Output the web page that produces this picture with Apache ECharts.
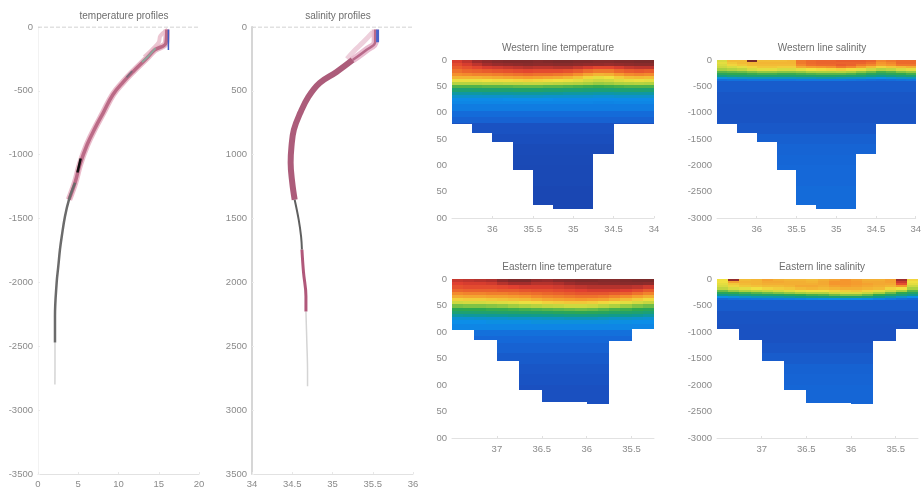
<!DOCTYPE html>
<html>
<head>
<meta charset="utf-8">
<style>
html,body{margin:0;padding:0;background:#fff}
#chart{width:924px;height:492px;filter:blur(0.7px)}
</style>
<script src="https://cdn.jsdelivr.net/npm/echarts@6/dist/echarts.min.js"></script>
</head>
<body>
<div id="chart"></div>
<script>
// ---- profile data: [value, depth] pairs
const tempBand = [[16.0,20],[15.9,125],[14.5,180],[13.5,245],[11.8,350],[10.6,430],[9.3,530],[8.1,672],[7.1,790],[6.1,922],[5.2,1078],[4.6,1220],[3.85,1352]];
const tempFan = [[16.1,20],[15.2,70],[15.0,120],[14.2,175],[13.2,235]];
const tempGreyUpper = [[14.6,165],[13.6,235],[12.9,275]];
const tempGreyMid = [[11.7,345],[11.0,395]];
const tempBlack = [[5.3,1030],[4.9,1140]];
const tempDeep = [[4.6,1220],[3.85,1352],[3.35,1484],[2.95,1640],[2.73,1742],[2.52,1875],[2.32,2000],[2.11,2266],[2.11,2470]];
const tempFaint = [[2.11,2470],[2.11,2680],[2.1,2800]];
const tempBlue = [[16.2,20],[16.2,180]];
const salBand = [[35.53,20],[35.53,117],[35.42,180],[35.25,258]];
const salFan = [[35.50,40],[35.38,120],[35.28,180],[35.18,250]];
const salCore = [[35.25,258],[35.05,352],[34.84,438],[34.70,547],[34.60,672],[34.52,805],[34.49,938],[34.48,1063],[34.50,1219],[34.53,1352]];
const salGrey = [[34.53,1352],[34.58,1508],[34.61,1641],[34.62,1742]];
const salCoreDeep = [[34.62,1742],[34.64,1922],[34.67,2109],[34.67,2227]];
const salFaint = [[34.67,2227],[34.68,2445],[34.69,2703],[34.69,2812]];
const salBlue = [[35.56,20],[35.56,120]];
const topLineTemp = [[0,0],[20,0]];
const topLineSal = [[34,0],[36,0]];

// ---- section data
const stationsWest = [36.5,36.25,36,35.75,35.5,35.25,35,34.75,34.5,34.25,34];
const stationsEast = [37.5,37.25,37,36.75,36.5,36.25,36,35.75,35.5,35.25];
const bottomsWest = [1224,1395,1554,2093,2759,2822,2822,1789,1224,1224];
const bottomsEastT = [964,1153,1544,2086,2319,2319,2357,1172,945];
const bottomsEastS = [945,1160,1544,2086,2340,2340,2360,1170,945];
const tempEdges = [0,60,120,180,240,300,360,420,480,540,600,660,720,780,840];
const salEdges = [0,40,80,120,160,200,240,280,320,360,400];
const tempDeepEdges = [840,960,1080,1200,1400,1600,1800,2000,2400,2900];
const salDeepEdges = [400,600,840,1000,1200,1400,1600,1800,2000,2400,2900];

const westTempRows = [
[15.6,15.9,16.3,16.6,16.8,16.9,16.9,16.9,16.8,16.9,17.0,17.0,16.9,16.9,16.8,16.8,16.9,16.9,17.0,17.0],
[15.3,15.6,15.9,16.2,16.4,16.5,16.6,16.7,16.6,16.6,16.7,16.7,16.6,16.5,16.5,16.4,16.5,16.6,16.7,16.7],
[15.0,15.2,15.4,15.6,15.7,15.8,15.9,16.0,15.9,15.9,16.0,16.0,15.8,15.6,15.4,15.4,15.6,15.8,15.9,15.9],
[14.6,14.8,14.9,15.0,15.1,15.2,15.3,15.4,15.3,15.3,15.3,15.2,15.0,14.7,14.5,14.5,14.8,15.0,15.1,15.0],
[14.1,14.2,14.3,14.3,14.4,14.5,14.6,14.7,14.6,14.6,14.5,14.4,14.1,13.7,13.4,13.5,13.9,14.2,14.3,14.2],
[13.4,13.4,13.4,13.5,13.6,13.7,13.8,13.9,13.8,13.7,13.6,13.4,13.1,12.7,12.3,12.5,12.9,13.2,13.3,13.2],
[12.4,12.4,12.4,12.5,12.6,12.6,12.7,12.8,12.7,12.6,12.5,12.4,12.2,11.9,11.7,11.8,12.1,12.3,12.4,12.3],
[11.3,11.3,11.3,11.4,11.4,11.5,11.5,11.6,11.6,11.5,11.4,11.3,11.2,11.0,10.8,10.9,11.1,11.2,11.3,11.2],
[9.9,9.9,9.9,10.0,10.0,10.0,10.1,10.1,10.1,10.0,10.0,9.9,9.8,9.7,9.6,9.7,9.8,9.9,9.9,9.9],
[8.7,8.7,8.8,8.8,8.8,8.8,8.9,8.9,8.9,8.8,8.8,8.7,8.7,8.6,8.6,8.6,8.7,8.7,8.8,8.7],
[7.7,7.7,7.7,7.8,7.8,7.8,7.8,7.8,7.8,7.8,7.8,7.7,7.7,7.7,7.6,7.6,7.7,7.7,7.7,7.7],
[7.0,7.0,7.0,7.0,7.0,7.0,7.1,7.1,7.1,7.0,7.0,7.0,7.0,7.0,6.9,6.9,7.0,7.0,7.0,7.0],
[6.4,6.4,6.4,6.4,6.4,6.5,6.5,6.5,6.5,6.5,6.4,6.4,6.4,6.4,6.4,6.4,6.4,6.4,6.4,6.4],
[6.2,6.2,6.2,6.2,6.2,6.2,6.2,6.2,6.2,6.2,6.2,6.2,6.2,6.2,6.1,6.1,6.2,6.2,6.2,6.2]
];
const westTempDeep = [5.8,5.1,4.6,3.6,3.3,3.0,2.9,2.8,2.7];

const eastTempRows = [
[15.8,15.9,16.0,16.1,16.6,16.9,16.9,16.5,16.4,16.7,16.8,16.9,16.9,16.8,16.8,16.9,17.0,17.0],
[15.5,15.6,15.6,15.7,16.0,16.2,16.2,16.0,16.0,16.1,16.3,16.5,16.5,16.6,16.6,16.7,16.7,16.6],
[15.2,15.3,15.3,15.3,15.4,15.5,15.6,15.6,15.6,15.7,15.8,15.9,16.0,16.0,16.0,16.0,15.9,15.7],
[14.8,14.9,14.9,14.9,15.0,15.0,15.1,15.2,15.2,15.3,15.4,15.5,15.6,15.6,15.6,15.5,15.3,15.0],
[14.2,14.3,14.3,14.4,14.4,14.5,14.6,14.7,14.8,14.9,15.0,15.1,15.1,15.1,15.0,14.9,14.6,14.3],
[13.6,13.7,13.7,13.8,13.8,13.9,14.0,14.2,14.3,14.4,14.5,14.6,14.6,14.5,14.3,14.1,13.8,13.5],
[12.8,12.9,12.9,13.0,13.1,13.2,13.3,13.5,13.7,13.8,13.9,14.0,13.9,13.8,13.5,13.2,12.9,12.6],
[11.8,11.9,11.9,12.0,12.1,12.2,12.4,12.6,12.8,12.9,13.0,13.0,12.9,12.7,12.4,12.2,11.9,11.6],
[10.4,10.5,10.5,10.6,10.7,10.9,11.1,11.3,11.5,11.6,11.8,11.8,11.7,11.4,11.1,10.8,10.5,10.3],
[9.4,9.5,9.5,9.6,9.6,9.7,9.8,9.9,10.0,10.1,10.2,10.3,10.2,10.0,9.8,9.7,9.5,9.3],
[8.7,8.7,8.8,8.8,8.9,8.9,9.0,9.0,9.1,9.2,9.3,9.4,9.3,9.2,9.0,8.9,8.8,8.6],
[7.7,7.8,7.8,7.9,7.9,8.0,8.0,8.1,8.1,8.2,8.3,8.3,8.3,8.2,8.1,8.0,7.9,7.7],
[6.9,6.9,7.0,7.0,7.0,7.1,7.1,7.1,7.2,7.2,7.3,7.3,7.3,7.2,7.1,7.1,7.0,6.9],
[6.5,6.5,6.5,6.6,6.6,6.6,6.6,6.7,6.7,6.7,6.7,6.7,6.7,6.7,6.6,6.6,6.5,6.5]
];
const eastTempDeep = [6.2,5.3,5.0,4.6,4.2,3.9,3.7,3.5,3.4];

const westSalRows = [
[35.20,35.30,35.30,35.60,35.30,35.30,35.30,35.31,35.40,35.42,35.43,35.43,35.44,35.44,35.44,35.43,35.38,35.40,35.42,35.42],
[35.22,35.28,35.30,35.31,35.31,35.31,35.31,35.31,35.40,35.42,35.43,35.43,35.43,35.43,35.43,35.41,35.36,35.38,35.42,35.42],
[35.20,35.26,35.28,35.30,35.30,35.30,35.30,35.30,35.38,35.41,35.42,35.42,35.44,35.43,35.40,35.38,35.34,35.36,35.40,35.40],
[35.18,35.20,35.22,35.26,35.28,35.28,35.27,35.27,35.33,35.35,35.36,35.37,35.40,35.38,35.34,35.30,35.26,35.28,35.30,35.32],
[35.12,35.14,35.16,35.20,35.22,35.22,35.20,35.20,35.22,35.24,35.25,35.26,35.27,35.25,35.22,35.18,35.14,35.16,35.20,35.22],
[35.04,35.05,35.06,35.08,35.10,35.10,35.09,35.09,35.10,35.12,35.13,35.13,35.14,35.12,35.09,35.06,35.02,35.04,35.08,35.10],
[34.98,35.00,35.00,35.01,35.02,35.02,35.01,35.01,35.02,35.03,35.04,35.04,35.04,35.03,35.01,34.98,34.96,34.98,35.00,35.02],
[34.90,34.92,34.93,34.94,34.94,34.94,34.94,34.94,34.95,34.95,34.96,34.96,34.95,34.94,34.93,34.90,34.88,34.90,34.92,34.94],
[34.78,34.80,34.81,34.82,34.82,34.82,34.82,34.82,34.83,34.83,34.84,34.84,34.83,34.82,34.81,34.79,34.77,34.79,34.81,34.82],
[34.66,34.67,34.67,34.68,34.68,34.68,34.68,34.68,34.69,34.69,34.69,34.69,34.69,34.68,34.67,34.66,34.65,34.66,34.67,34.68]
];
const westSalDeep = [34.58,34.55,34.54,34.54,34.56,34.60,34.62,34.63,34.64,34.65];

const eastSalRows = [
[35.24,35.56,35.30,35.31,35.34,35.32,35.31,35.31,35.30,35.32,35.34,35.36,35.34,35.32,35.32,35.34,35.54,35.26],
[35.24,35.34,35.31,35.31,35.33,35.33,35.32,35.32,35.31,35.33,35.36,35.36,35.35,35.33,35.33,35.34,35.50,35.24],
[35.22,35.28,35.30,35.31,35.32,35.32,35.32,35.32,35.32,35.33,35.36,35.36,35.35,35.34,35.33,35.33,35.46,35.22],
[35.20,35.26,35.28,35.29,35.30,35.30,35.31,35.33,35.33,35.32,35.34,35.35,35.34,35.33,35.32,35.31,35.36,35.18],
[35.16,35.20,35.22,35.24,35.26,35.27,35.28,35.30,35.31,35.30,35.31,35.32,35.32,35.31,35.30,35.26,35.24,35.12],
[35.06,35.10,35.13,35.15,35.17,35.19,35.21,35.23,35.24,35.24,35.26,35.27,35.28,35.26,35.22,35.18,35.12,35.04],
[34.98,35.00,35.02,35.04,35.06,35.08,35.10,35.12,35.14,35.14,35.18,35.20,35.20,35.17,35.12,35.06,35.00,34.96],
[34.88,34.90,34.92,34.94,34.95,34.96,34.98,35.00,35.02,35.03,35.06,35.08,35.08,35.05,35.00,34.96,34.92,34.88],
[34.76,34.78,34.80,34.82,34.83,34.84,34.86,34.88,34.90,34.91,34.93,34.94,34.94,34.92,34.88,34.84,34.80,34.76],
[34.64,34.66,34.67,34.68,34.69,34.70,34.71,34.72,34.74,34.75,34.76,34.77,34.76,34.75,34.72,34.69,34.66,34.64]
];
const eastSalDeep = [34.58,34.54,34.53,34.53,34.55,34.58,34.61,34.62,34.63,34.64];

// ---- tick labels
const xTempTicks = [0,5,10,15,20];
const xSalTicks = [34,34.5,35,35.5,36];
const yTempLabels = ['0','-500','-1000','-1500','-2000','-2500','-3000','-3500'];
const ySalLabels = ['0','500','1000','1500','2000','2500','3000','3500'];
const ySectionTempLabels = ['0','50','00','50','00','50','00'];
const ySectionSalLabels = ['0','-500','-1000','-1500','-2000','-2500','-3000'];
const xWestTicks = [36,35.5,35,34.5,34];
const xEastTicks = [37,36.5,36,35.5];

// ---- colour scale
const palette = ['#1a3fa8','#1a48b4','#1a50c0','#185ccc','#1568d8','#107be0','#0c8ee8','#0e94bc','#0f9a90','#1fa170','#2fa84f','#6cbc48','#a8d040','#ccd840','#f0e040','#f2bb36','#f5962d','#ec6a2c','#e04030','#a02c2c','#7a2a2a'];

const tickLabelStyle = {color:'#8a8a8a',fontSize:9.5,fontFamily:'Liberation Sans, Arial, sans-serif'};
const faintLine = {lineStyle:{color:'#e2e2e2',width:1}};

function sectionCells(stations, bottoms, colsPerStation, edges, rows, deepEdges, deep){
  const out=[];
  const nCols=rows[0].length;
  const add=(col,top,bot,val)=>{
    const s=Math.floor(col/colsPerStation);
    if(s>=bottoms.length) return;
    const b=bottoms[s];
    if(top>=b) return;
    const frac0=col/colsPerStation-s, frac1=frac0+1/colsPerStation;
    const lon0=stations[s]+(stations[s+1]-stations[s])*frac0;
    const lon1=stations[s]+(stations[s+1]-stations[s])*frac1;
    out.push([lon0,lon1,-top,-Math.min(bot,b),val]);
  };
  for(let r=0;r<rows.length;r++) for(let c=0;c<nCols;c++) add(c,edges[r],edges[r+1],rows[r][c]);
  for(let r=0;r<deep.length;r++) for(let c=0;c<nCols;c++) add(c,deepEdges[r],deepEdges[r+1],deep[r]);
  return out;
}
function renderCell(params,api){
  const a=api.coord([api.value(0),api.value(2)]);
  const b=api.coord([api.value(1),api.value(3)]);
  const x0=Math.round(Math.min(a[0],b[0])),x1=Math.round(Math.max(a[0],b[0]));
  const y0=Math.round(Math.min(a[1],b[1])),y1=Math.round(Math.max(a[1],b[1]));
  return {type:'rect',shape:{x:x0,y:y0,width:x1-x0,height:y1-y0},style:{fill:api.visual('color')}};
}
function sectionSeries(i,cells){
  return {type:'custom',xAxisIndex:i,yAxisIndex:i,data:cells,renderItem:renderCell,
    encode:{x:[0,1],y:[2,3]},silent:true,clip:true};
}
function lineSeries(i,data,color,width,extra){
  return Object.assign({type:'line',xAxisIndex:i,yAxisIndex:i,symbol:'none',silent:true,clip:true,
    data:data.map(p=>[p[0],-p[1]]),smooth:0.4,lineStyle:{color:color,width:width}},extra||{});
}

const grids=[
 {left:38,top:27,width:161,height:447},
 {left:252,top:27,width:161,height:447},
 {left:452,top:60,width:202,height:158},
 {left:717,top:60,width:202,height:158},
 {left:452,top:279,width:202,height:159},
 {left:717,top:279,width:201,height:159}
];
const titles=[
 ['temperature profiles',119,6],['salinity profiles',333,6],
 ['Western line temperature',553,38],['Western line salinity',817,38],
 ['Eastern line temperature',552,257],['Eastern line salinity',817,257]
].map(t=>({text:t[0],left:t[1],top:t[2],textAlign:'center',
  textStyle:{fontSize:10,fontWeight:'normal',color:'#6e6e6e',fontFamily:'Liberation Sans, Arial, sans-serif'}}));

function profileX(i,min,max,ticks){
  return {gridIndex:i,type:'value',min:min,max:max,interval:ticks[1]-ticks[0],splitLine:{show:false},
    axisLine:{onZero:false,...faintLine},axisTick:{length:2,inside:true,lineStyle:{color:'#e8e8e8'}},
    axisLabel:Object.assign({margin:5,showMinLabel:true,showMaxLabel:true},tickLabelStyle)};
}
function profileY(i,labels,lineColor,width){
  return {gridIndex:i,type:'value',min:-3500,max:0,interval:500,splitLine:{show:false},
    axisLine:{onZero:false,lineStyle:{color:lineColor,width:width}},axisTick:{length:2,inside:true,lineStyle:{color:'#ececec'}},
    axisLabel:Object.assign({margin:5,formatter:v=>labels[Math.round(-v/500)]},tickLabelStyle)};
}
function sectionX(i,min,max,ticks,fmt){
  return {gridIndex:i,type:'value',inverse:true,min:min,max:max,splitLine:{show:false},
    axisLine:{onZero:false,...faintLine},
    axisTick:{customValues:ticks,length:2,inside:true,lineStyle:{color:'#e0e0e0'}},
    axisLabel:Object.assign({customValues:ticks,margin:6,formatter:fmt},tickLabelStyle)};
}
function sectionY(i,labels){
  return {gridIndex:i,type:'value',min:-3000,max:0,interval:500,splitLine:{show:false},
    axisLine:{show:false,onZero:false},axisTick:{show:false},
    axisLabel:Object.assign({margin:5,formatter:v=>labels[Math.round(-v/500)]},tickLabelStyle)};
}
const fmtLon=v=>String(v);

const option={
 animation:false,
 backgroundColor:'#ffffff',
 title:titles,
 grid:grids,
 xAxis:[
  profileX(0,0,20,xTempTicks),
  profileX(1,34,36,xSalTicks),
  sectionX(2,34,36.5,xWestTicks,fmtLon),
  sectionX(3,34,36.5,xWestTicks,fmtLon),
  sectionX(4,35.25,37.5,xEastTicks,fmtLon),
  sectionX(5,35.25,37.5,xEastTicks,fmtLon)
 ],
 yAxis:[
  profileY(0,yTempLabels,'#f2f2f2',1),
  profileY(1,ySalLabels,'#d6d6d6',2),
  sectionY(2,ySectionTempLabels),
  sectionY(3,ySectionSalLabels),
  sectionY(4,ySectionTempLabels),
  sectionY(5,ySectionSalLabels)
 ],
 visualMap:[
  {show:false,type:'continuous',min:2,max:17,dimension:4,seriesIndex:[0,1],inRange:{color:palette}},
  {show:false,type:'continuous',min:34.4,max:35.6,dimension:4,seriesIndex:[2,3],inRange:{color:palette}}
 ],
 series:[
  sectionSeries(2,sectionCells(stationsWest,bottomsWest,2,tempEdges,westTempRows,tempDeepEdges,westTempDeep)),
  sectionSeries(4,sectionCells(stationsEast,bottomsEastT,2,tempEdges,eastTempRows,tempDeepEdges,eastTempDeep)),
  sectionSeries(3,sectionCells(stationsWest,bottomsWest,2,salEdges,westSalRows,salDeepEdges,westSalDeep)),
  sectionSeries(5,sectionCells(stationsEast,bottomsEastS,2,salEdges,eastSalRows,salDeepEdges,eastSalDeep)),
  lineSeries(0,topLineTemp,'#c4c4c4',1,{lineStyle:{color:'#c4c4c4',width:1,type:'dashed'},smooth:false}),
  lineSeries(0,tempFan,'#ecc6d2',4),
  lineSeries(0,tempBand,'#eabccb',6.5),
  lineSeries(0,tempBand,'#bb6a86',3.5),
  lineSeries(0,tempGreyUpper,'#8fa59c',2),
  lineSeries(0,tempGreyMid,'#7d6a7a',2),
  lineSeries(0,tempFaint,'#d4d4d4',1.5),
  lineSeries(0,tempDeep,'#6b6b6b',2.5),
  lineSeries(0,tempBlack,'#111111',2.5),
  lineSeries(0,tempBlue,'#3e5cc4',1.5),
  lineSeries(1,topLineSal,'#c4c4c4',1,{lineStyle:{color:'#c4c4c4',width:1,type:'dashed'},smooth:false}),
  lineSeries(1,salFan,'#eed0dc',5),
  lineSeries(1,salBand,'#e9bcd0',7),
  lineSeries(1,salBand,'#b86a8a',2.5),
  lineSeries(1,salFaint,'#d4d4d4',1.5),
  lineSeries(1,salCoreDeep,'#b0587a',3),
  lineSeries(1,salCore,'#ac5c7a',6),
  lineSeries(1,salGrey,'#5f5f5f',2),
  lineSeries(1,salBlue,'#4a64c8',3)
 ]
};
echarts.init(document.getElementById('chart'),null,{renderer:'canvas'}).setOption(option);
</script>
</body>
</html>
